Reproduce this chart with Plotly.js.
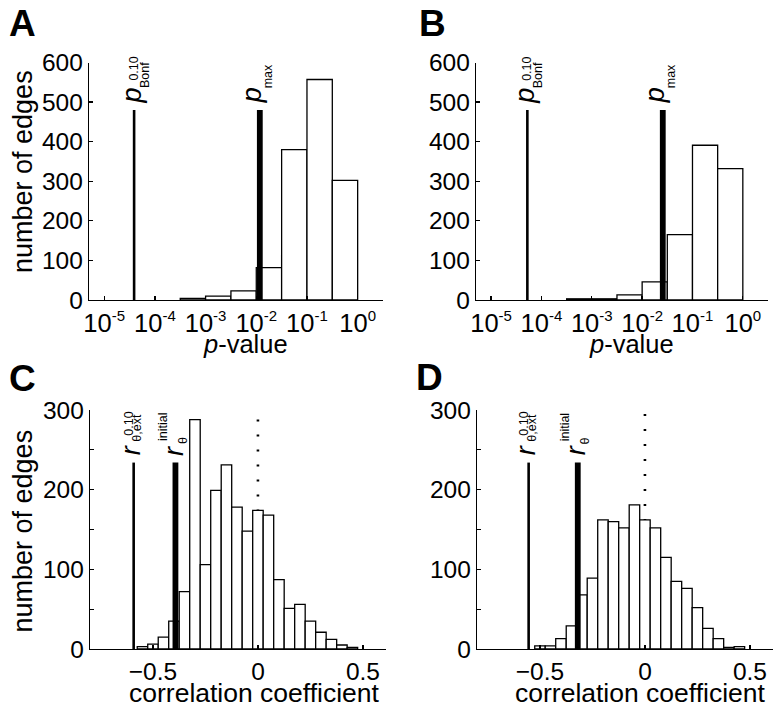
<!DOCTYPE html>
<html><head><meta charset="utf-8">
<script src="https://cdn.plot.ly/plotly-3.0.1.min.js"></script>
<style>body{margin:0;background:#fff}#chart{width:781px;height:710px}</style>
</head><body><div id="chart"></div>
<script>
// ---------- Panels A / B : p-value histograms (log10 half-decade bins) ----------
const pBinLeftExp = [-3.5, -3, -2.5, -2, -1.5, -1, -0.5];
const pBinWidthExp = 0.5;
const countsA = [4, 10, 23, 82, 380, 557, 302];
const countsB = [3, 3, 13, 46, 165, 391, 332];
const pTickExp = [-5, -4, -3, -2, -1, 0];
const pTickExpText = ['-5', '-4', '-3', '-2', '-1', '0'];
const countTicksAB = [0, 100, 200, 300, 400, 500, 600];
const pBonfExpA = -4.41, pMaxExpA = -1.93;
const pBonfExpB = -4.28, pMaxExpB = -1.59;
const thresholdTopAB = 480;

// ---------- Panels C / D : correlation coefficient histograms ----------
const rCentersC = [-0.55, -0.5, -0.45, -0.4, -0.35, -0.3, -0.25, -0.2, -0.15, -0.1, -0.05, 0, 0.05, 0.1, 0.15, 0.2, 0.25, 0.3, 0.35, 0.4, 0.45];
const countsC   = [3, 6, 15, 35, 72, 288, 106, 199, 231, 178, 148, 174, 168, 87, 51, 56, 35, 21, 12, 5, 2];
const rCentersD = [-0.5, -0.45, -0.4, -0.35, -0.3, -0.25, -0.2, -0.15, -0.1, -0.05, 0, 0.05, 0.1, 0.15, 0.2, 0.25, 0.3, 0.35, 0.4, 0.45];
const countsD   = [4, 4, 13, 29, 68, 89, 162, 160, 152, 181, 162, 152, 115, 85, 76, 52, 26, 13, 2, 3];
const rBinWidth = 0.05;
const rTicks = [-0.5, 0, 0.5];
const rTickText = ['\u22120.5', '0', '0.5'];
const countTicksCD = [0, 50, 100, 150, 200, 250, 300];
const countTickTextCD = ['0', '', '100', '', '200', '', '300'];
const rExtC = -0.592, rInitC = -0.393;
const rExtD = -0.554, rInitD = -0.32;
const thresholdTopCD = 234;
const zeroRefX = 0;
const zeroRefTopC = 288, zeroRefTopD = 295;

// ---------- styling ----------
const FONT = 'Liberation Sans, Arial, sans-serif';
const BLACK = '#000';
const thin = 2.6, thick = 5.8;
const TICK = 24.5;

function bars(centers, counts, width, xa, ya) {
  return {type: 'bar', x: centers, y: counts, width: width, xaxis: xa, yaxis: ya,
    marker: {color: '#fff', line: {color: BLACK, width: 1.3}}, hoverinfo: 'skip'};
}
function vline(x, top, w, xa, ya) {
  return {type: 'scatter', mode: 'lines', x: [x, x], y: [0, top], xaxis: xa, yaxis: ya,
    line: {color: BLACK, width: w}, hoverinfo: 'skip'};
}
const centersAB = pBinLeftExp.map(e => e + pBinWidthExp / 2);
const pTickText = pTickExpText.map(e => '10<sup><span style="font-size:15px">' + e + '</span></sup>');

const data = [
  bars(centersAB, countsA, pBinWidthExp, 'x', 'y'),
  vline(pBonfExpA, thresholdTopAB, thin, 'x', 'y'),
  vline(pMaxExpA, thresholdTopAB, thick, 'x', 'y'),
  bars(centersAB, countsB, pBinWidthExp, 'x2', 'y2'),
  vline(pBonfExpB, thresholdTopAB, thin, 'x2', 'y2'),
  vline(pMaxExpB, thresholdTopAB, thick, 'x2', 'y2'),
  bars(rCentersC, countsC, rBinWidth, 'x3', 'y3'),
  vline(rExtC, thresholdTopCD, thin, 'x3', 'y3'),
  vline(rInitC, thresholdTopCD, thick, 'x3', 'y3'),
  bars(rCentersD, countsD, rBinWidth, 'x4', 'y4'),
  vline(rExtD, thresholdTopCD, thin, 'x4', 'y4'),
  vline(rInitD, thresholdTopCD, thick, 'x4', 'y4')
];

const W = 781, H = 710;
const px = v => v / W, py = v => 1 - v / H;

function axisBase(extra) {
  return Object.assign({
    showline: true, linecolor: BLACK, linewidth: 1.3, mirror: false,
    ticks: 'inside', ticklen: 4, tickwidth: 1.3, tickcolor: BLACK,
    showgrid: false, zeroline: false, fixedrange: true,
    tickfont: {family: FONT, size: TICK, color: BLACK}
  }, extra);
}
const xAB = {range: [-5.3, 0.5], tickmode: 'array', tickvals: pTickExp, ticktext: pTickText, tickfont: {family: FONT, size: 25.5, color: BLACK}};
const yAB = {range: [0, 600], tickmode: 'array', tickvals: countTicksAB};
const xCD = {range: [-0.8, 0.61], tickmode: 'array', tickvals: rTicks, ticktext: rTickText};
const yCD = {range: [0, 300], tickmode: 'array', tickvals: countTicksCD, ticktext: countTickTextCD};

const layout = {
  width: W, height: H, margin: {l: 0, r: 0, t: 0, b: 0},
  paper_bgcolor: '#fff', plot_bgcolor: 'rgba(0,0,0,0)', showlegend: false, bargap: 0,
  font: {family: FONT, color: BLACK},
  xaxis:  axisBase(Object.assign({domain: [px(89), px(383)], anchor: 'y'}, xAB)),
  yaxis:  axisBase(Object.assign({domain: [py(300), py(62.5)], anchor: 'x'}, yAB)),
  xaxis2: axisBase(Object.assign({domain: [px(476), px(768)], anchor: 'y2'}, xAB)),
  yaxis2: axisBase(Object.assign({domain: [py(300), py(62.5)], anchor: 'x2'}, yAB)),
  xaxis3: axisBase(Object.assign({domain: [px(90), px(386)], anchor: 'y3'}, xCD)),
  yaxis3: axisBase(Object.assign({domain: [py(649), py(410)], anchor: 'x3'}, yCD)),
  xaxis4: axisBase(Object.assign({domain: [px(477), px(773)], anchor: 'y4'}, xCD)),
  yaxis4: axisBase(Object.assign({domain: [py(649), py(410)], anchor: 'x4'}, yCD)),
  shapes: [
    {type: 'line', layer: 'below', xref: 'x3', yref: 'y3', x0: zeroRefX, x1: zeroRefX, y0: zeroRefTopC, y1: 0,
     line: {color: BLACK, width: 2.6, dash: '2px,13px'}},
    {type: 'line', layer: 'below', xref: 'x4', yref: 'y4', x0: zeroRefX, x1: zeroRefX, y0: zeroRefTopD, y1: 0,
     line: {color: BLACK, width: 2.6, dash: '2px,13px'}}
  ],
  annotations: []
};

function ann(o) {
  layout.annotations.push(Object.assign({showarrow: false, xanchor: 'center', yanchor: 'middle',
    font: {family: FONT, size: 23, color: BLACK}}, o));
}
function rot(xa, ya, x, y, text, size, dx, dy) {
  ann({xref: xa, yref: ya, x: x, y: y, text: text, textangle: -90, xshift: dx, yshift: dy,
       font: {family: FONT, size: size, color: BLACK}});
}
// threshold labels (rotated)
[['x', 'y', pBonfExpA, pMaxExpA], ['x2', 'y2', pBonfExpB, pMaxExpB]].forEach(([xa, ya, b, m]) => {
  rot(xa, ya, b, thresholdTopAB, '<i>p</i>', 27, -3, 14.5);
  rot(xa, ya, b, thresholdTopAB, '0.10', 12.5, -1, 41.5);
  rot(xa, ya, b, thresholdTopAB, 'Bonf', 12.5, 11, 35);
  rot(xa, ya, m, thresholdTopAB, '<i>p</i>', 27, -8, 14.5);
  rot(xa, ya, m, thresholdTopAB, 'max', 12.5, 8.5, 34);
});
[['x3', 'y3', rExtC, rInitC], ['x4', 'y4', rExtD, rInitD]].forEach(([xa, ya, e, i]) => {
  rot(xa, ya, e, thresholdTopCD, '<i>r</i>', 27, -3, 12);
  rot(xa, ya, e, thresholdTopCD, '0.10', 12.5, -5, 38.5);
  rot(xa, ya, e, thresholdTopCD, '\u03b8,ext', 12.5, 2.5, 35);
  rot(xa, ya, i, thresholdTopCD, '<i>r</i>', 27, -2, 12);
  rot(xa, ya, i, thresholdTopCD, 'initial', 12.5, -13, 36);
  rot(xa, ya, i, thresholdTopCD, '\u03b8', 12.5, 7.6, 21.5);
});

// axis titles
ann({xref: 'paper', yref: 'paper', x: px(246), y: py(344), text: '<i>p</i>-value', font: {family: FONT, size: 25.5, color: BLACK}});
ann({xref: 'paper', yref: 'paper', x: px(631), y: py(344), text: '<i>p</i>-value', font: {family: FONT, size: 25.5, color: BLACK}});
ann({xref: 'paper', yref: 'paper', x: px(254), y: py(693), text: 'correlation coefficient', font: {family: FONT, size: 26.5, color: BLACK}});
ann({xref: 'paper', yref: 'paper', x: px(640), y: py(693), text: 'correlation coefficient', font: {family: FONT, size: 26.5, color: BLACK}});
ann({xref: 'paper', yref: 'paper', x: px(23), y: py(172), text: 'number of edges', textangle: -90, font: {family: FONT, size: 27, color: BLACK}});
ann({xref: 'paper', yref: 'paper', x: px(22.5), y: py(531), text: 'number of edges', textangle: -90, font: {family: FONT, size: 27, color: BLACK}});

// panel letters
[['A', 22, 24], ['B', 432, 24], ['C', 22, 379], ['D', 430, 378]].forEach(([t, x, y]) => {
  ann({xref: 'paper', yref: 'paper', x: px(x), y: py(y), text: '<b>' + t + '</b>', font: {family: FONT, size: 37, color: BLACK}});
});

Plotly.newPlot('chart', data, layout, {staticPlot: true, displayModeBar: false});
</script>
</body></html>
